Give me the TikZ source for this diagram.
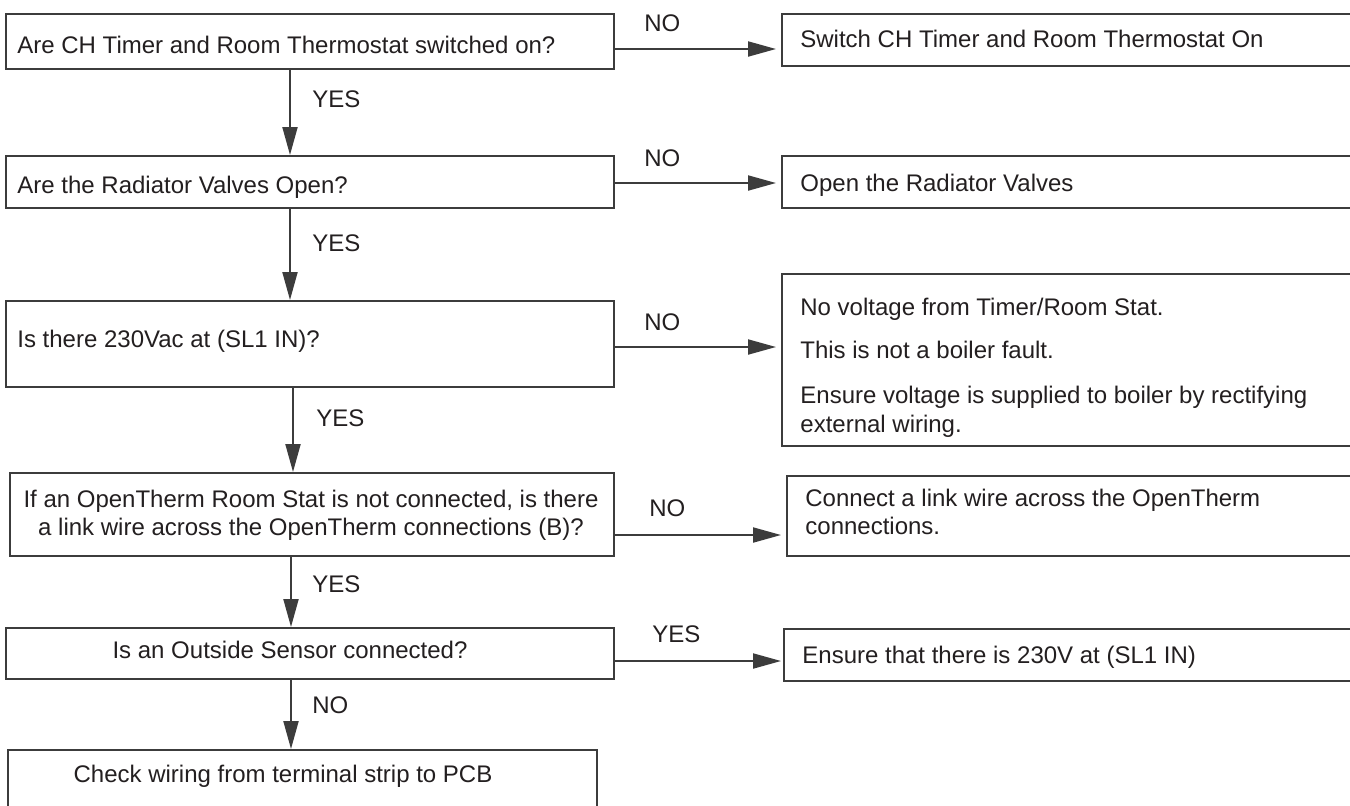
\documentclass[tikz,border=0pt]{standalone}
\usepackage{fontspec}
\setmainfont{Liberation Sans}
\usetikzlibrary{arrows.meta,fit}
\definecolor{linec}{HTML}{3C3C3C}
\definecolor{txtc}{HTML}{231F20}
\begin{document}
\begin{tikzpicture}[x=0.5pt,y=-0.5pt,
  box/.style={draw=linec, line width=1pt, inner sep=0pt, rectangle},
  txt/.style={inner sep=0pt, text=txtc, font=\fontsize{12pt}{14.5pt}\selectfont},
  lbl/.style={txt, anchor=base west},
  ctr/.style={txt, anchor=base},
  arr/.style={draw=linec, line width=1pt, -{Triangle[length=14pt,width=7.5pt]}}]
\useasboundingbox (0,0) rectangle (1350,805);
\fill[white] (0,0) rectangle (1350,805);
\clip (0,0) rectangle (1350,805);

% row 1
\node[box, fit={(6,14) (614,69)}] (q1) {};
\node[lbl] (q1t) at (17,53) {Are CH Timer and Room Thermostat switched on?};
\node[box, fit={(782,14) (1360,66)}] (r1) {};
\node[lbl] (r1t) at (800,47) {Switch CH Timer and Room Thermostat On};
\node[lbl] (no1) at (644,31) {NO};
\coordinate (h1) at (0,49);
\draw[arr, shorten >=2.5pt] (q1.east |- h1) -- (r1.west |- h1);

% row 2
\node[box, fit={(6,156) (614,208)}] (q2) {};
\node[lbl] (q2t) at (17,193) {Are the Radiator Valves Open?};
\node[box, fit={(782,156) (1360,208)}] (r2) {};
\node[lbl] (r2t) at (800,191) {Open the Radiator Valves};
\node[lbl] (no2) at (644,166) {NO};
\coordinate (h2) at (0,183);
\draw[arr, shorten >=2.5pt] (q2.east |- h2) -- (r2.west |- h2);

\coordinate (v1) at (290,0);
\draw[arr] (q1.south -| v1) -- (q2.north -| v1);
\node[lbl] (yes1) at (312,107) {YES};

% row 3
\node[box, fit={(6,301) (614,387)}] (q3) {};
\node[lbl] (q3t) at (17,347) {Is there 230Vac at (SL1 IN)?};
\node[box, fit={(782,274) (1360,446)}] (r3) {};
\node[lbl] (r3a) at (800,315) {No voltage from Timer/Room Stat.};
\node[lbl] (r3b) at (800,358) {This is not a boiler fault.};
\node[lbl] (r3c) at (800,403) {Ensure voltage is supplied to boiler by rectifying};
\node[lbl] (r3d) at (800,432) {external wiring.};
\node[lbl] (no3) at (644,330) {NO};
\coordinate (h3) at (0,347);
\draw[arr, shorten >=2.5pt] (q3.east |- h3) -- (r3.west |- h3);

\coordinate (v2) at (290,0);
\draw[arr] (q2.south -| v2) -- (q3.north -| v2);
\node[lbl] (yes2) at (312,251) {YES};

% row 4
\node[box, fit={(10,473) (614,556)}] (q4) {};
\node[ctr] (q4a) at (311,507) {If an OpenTherm Room Stat is not connected, is there};
\node[ctr] (q4b) at (311,535) {a link wire across the OpenTherm connections (B)?};
\node[box, fit={(787,476) (1360,556)}] (r4) {};
\node[lbl] (r4a) at (805,506) {Connect a link wire across the OpenTherm};
\node[lbl] (r4b) at (805,534) {connections.};
\node[lbl] (no4) at (649,516) {NO};
\coordinate (h4) at (0,535);
\draw[arr, shorten >=2.5pt] (q4.east |- h4) -- (r4.west |- h4);

\coordinate (v3) at (293,0);
\draw[arr] (q3.south -| v3) -- (q4.north -| v3);
\node[lbl] (yes3) at (316,426) {YES};

% row 5
\node[box, fit={(6,628) (614,679)}] (q5) {};
\node[ctr] (q5t) at (290,658) {Is an Outside Sensor connected?};
\node[box, fit={(784,629) (1360,681)}] (r5) {};
\node[lbl] (r5t) at (802,663) {Ensure that there is 230V at (SL1 IN)};
\node[lbl] (yes5) at (652,642) {YES};
\coordinate (h5) at (0,661);
\draw[arr, shorten >=1pt] (q5.east |- h5) -- (r5.west |- h5);

\coordinate (v4) at (291,0);
\draw[arr] (q4.south -| v4) -- (q5.north -| v4);
\node[lbl] (yes4) at (312,592) {YES};

% row 6
\node[box, fit={(8,750) (597,840)}] (q6) {};
\node[ctr] (q6t) at (283,782) {Check wiring from terminal strip to PCB};

\coordinate (v5) at (291,0);
\draw[arr] (q5.south -| v5) -- (q6.north -| v5);
\node[lbl] (no5) at (312,713) {NO};
\end{tikzpicture}
\end{document}
